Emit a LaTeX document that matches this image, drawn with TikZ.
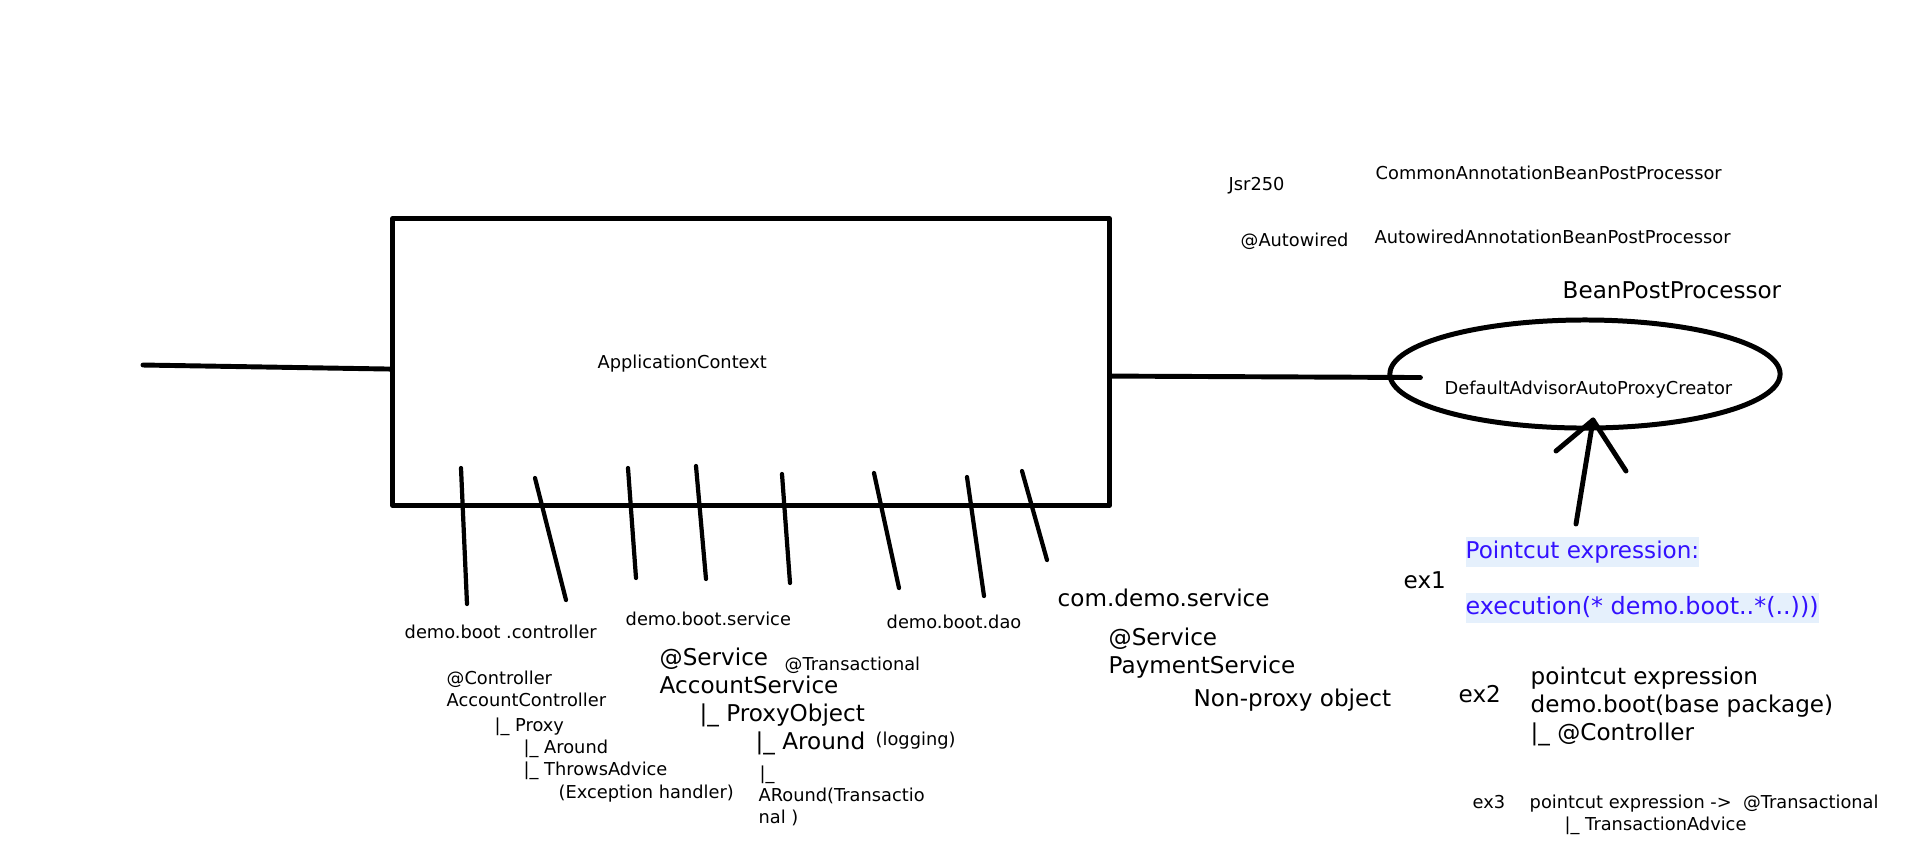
\documentclass[tikz,border=0pt]{standalone}
\usepackage{fontspec}
\setmainfont{DejaVu Sans}
\usetikzlibrary{shapes.geometric}
\definecolor{pcblue}{RGB}{51,17,255}
\definecolor{pcbg}{RGB}{229,240,252}
\tikzset{
  txt/.style={font=\fontsize{5.06pt}{6pt}\selectfont,inner sep=0pt,anchor=mid west,yshift=0.7pt},
  bigtxt/.style={font=\fontsize{6.57pt}{8pt}\selectfont,inner sep=0pt,anchor=mid west,yshift=0.7pt},
  hl/.style={bigtxt,text=pcblue,fill=pcbg,inner ysep=1pt,text height=5pt,text depth=1.6pt},
  pkgline/.style={line width=1.2pt},
}
\begin{document}
\begin{tikzpicture}[x=0.01cm,y=-0.01cm,line join=round,line cap=round]
\useasboundingbox (0,0) rectangle (1914,850);
% context
\node[draw,line width=1.42pt,minimum width=7.17cm,minimum height=2.86cm,inner sep=0pt] (ctx) at (751,362) {};
\node[txt] (ctxname) at (597,361) {ApplicationContext};
\coordinate (inlet) at (143,365);
\draw[line width=1.4pt] (inlet) -- ([yshift=-2pt]ctx.west);
% package strokes
\foreach \xa/\ya/\xb/\yb in {461/468/467/604,535/478/566/600,628/468/636/578,696/466/706/579,
    782/474/790/583,874/473/899/588,967/477/984/596,1022/471/1047/560}
  \draw[pkgline] (\xa,\ya) -- (\xb,\yb);
% post processors
\node[txt] (jsr) at (1228,183) {Jsr250};
\node[txt] (cabpp) at (1375,172) {CommonAnnotationBeanPostProcessor};
\node[txt] (autow) at (1240,239) {@Autowired};
\node[txt] (aabpp) at (1374,236) {AutowiredAnnotationBeanPostProcessor};
\node[bigtxt] (bpp) at (1562,291) {BeanPostProcessor};
\node[draw,ellipse,line width=1.42pt,minimum width=3.9cm,minimum height=1.08cm,inner sep=0pt] (dapc) at (1585,374) {};
\node[txt] (dapcname) at (1444,387) {DefaultAdvisorAutoProxyCreator};
\draw[line width=1.4pt] ([yshift=-4pt]ctx.east) -- ([xshift=0.33cm,yshift=-1pt]dapc.west);
% pointcut arrow
\coordinate (tail) at (1576,524);
\coordinate (tip) at (1593,420);
\coordinate (barbl) at (1556,451);
\coordinate (barbr) at (1626,471);
\draw[line width=1.4pt] (tail) -- (tip);
\draw[line width=1.4pt] (barbl) -- (tip) -- (barbr);
% packages
\node[txt] (pkgctl) at (404,631) {demo.boot .controller};
\node[txt] (pkgsvc) at (625,618) {demo.boot.service};
\node[txt] (pkgdao) at (886,621) {demo.boot.dao};
\node[bigtxt] (pkgcom) at (1057,599) {com.demo.service};
% controller
\node[txt] (ctlann) at (446,677) {@Controller};
\node[txt] (ctlcls) at (446,699) {AccountController};
\node[txt] (ctlproxy) at (494,724) {|\_ Proxy};
\node[txt] (ctlaround) at (523,746) {|\_ Around};
\node[txt] (ctlthrows) at (523,768) {|\_ ThrowsAdvice};
\node[txt] (ctlexc) at (558,791) {(Exception handler)};
% account service
\node[bigtxt] (svcann) at (659,658) {@Service};
\node[txt] (svctx) at (784,663) {@Transactional};
\node[bigtxt] (svccls) at (659,686) {AccountService};
\node[bigtxt] (svcproxy) at (699,714) {|\_ ProxyObject};
\node[bigtxt] (svcaround) at (755,742) {|\_ Around};
\node[txt] (svclog) at (875,738) {(logging)};
\node[txt] (svcbar) at (759,772) {|\_};
\node[txt] (svctxa) at (758,794) {ARound(Transactio};
\node[txt] (svctxb) at (758,816) {nal )};
% payment service
\node[bigtxt] (payann) at (1108,638) {@Service};
\node[bigtxt] (paycls) at (1108,666) {PaymentService};
\node[bigtxt] (paynote) at (1193,699) {Non-proxy object};
% examples
\node[bigtxt] (exa) at (1403,581) {ex1};
\node[hl] (exahead) at (1465,551) {Pointcut expression:};
\node[hl,font=\fontsize{6.78pt}{8pt}\selectfont] (exabody) at (1465,607) {execution(* demo.boot..*(..)))};
\node[bigtxt] (exb) at (1458,695) {ex2};
\node[bigtxt] (exbhead) at (1530,677) {pointcut expression};
\node[bigtxt] (exbbase) at (1530,705) {demo.boot(base package)};
\node[bigtxt] (exbctl) at (1530,733) {|\_ @Controller};
\node[txt] (exc) at (1472,801) {ex3};
\node[txt] (exchead) at (1529,801) {pointcut expression ->\ \ @Transactional};
\node[txt] (excadv) at (1564,823) {|\_ TransactionAdvice};
\end{tikzpicture}
\end{document}
